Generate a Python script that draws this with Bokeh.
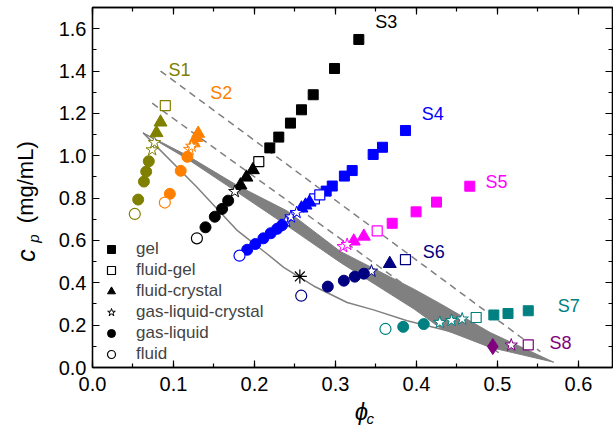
from bokeh.plotting import figure
from bokeh.models import (Range1d, LinearAxis, Label, Legend, LegendItem,
                          SingleIntervalTicker, NumeralTickFormatter, CustomJSTickFormatter)
from bokeh.core.properties import value
from bokeh.embed import file_html
from bokeh.resources import INLINE

FONT = "Liberation Sans"

# ---------------- data ----------------
# phase codes: G gel, FG fluid-gel, FC fluid-crystal, GLC gas-liquid-crystal,
#              GL gas-liquid, F fluid, X crystal (diamond)
S1_phi = [0.0522, 0.0564, 0.0635, 0.0663, 0.0695, 0.0737, 0.0765, 0.079, 0.084, 0.0899]
S1_cp = [0.725, 0.793, 0.878, 0.925, 0.974, 1.028, 1.062, 1.108, 1.158, 1.237]
S1_phase = ["F", "GL", "GL", "GL", "GL", "GLC", "GLC", "FC", "FC", "FG"]

S2_phi = [0.0893, 0.0955, 0.1089, 0.1171, 0.120, 0.1225, 0.125, 0.128, 0.1305]
S2_cp = [0.779, 0.820, 0.929, 0.995, 1.030, 1.045, 1.060, 1.085, 1.105]
S2_phase = ["F", "GL", "GL", "GL", "GLC", "GLC", "FC", "FC", "FC"]

S3_phi = [0.1289, 0.1395, 0.151, 0.160, 0.1675, 0.1757, 0.1827, 0.190, 0.198, 0.2053,
          0.2189, 0.230, 0.2444, 0.258, 0.2725, 0.2988, 0.3288]
S3_cp = [0.610, 0.662, 0.712, 0.749, 0.788, 0.831, 0.861, 0.898, 0.933, 0.972,
         1.037, 1.088, 1.154, 1.217, 1.288, 1.412, 1.549]
S3_phase = ["F", "GL", "GL", "GL", "GL", "GLC", "FC", "FC", "FC", "FG",
            "G", "G", "G", "G", "G", "G", "G"]

S4_phi = [0.1815, 0.191, 0.201, 0.211, 0.220, 0.228, 0.234, 0.239, 0.245, 0.252,
          0.258, 0.263, 0.268, 0.274, 0.2806, 0.2885, 0.296, 0.311, 0.3206, 0.3465,
          0.358, 0.3864]
S4_cp = [0.528, 0.556, 0.583, 0.610, 0.634, 0.655, 0.672, 0.690, 0.711, 0.732,
         0.752, 0.766, 0.780, 0.796, 0.815, 0.833, 0.857, 0.904, 0.930, 1.006,
         1.040, 1.119]
S4_phase = ["F", "GL", "GL", "GL", "GL", "GL", "GL", "GLC", "GLC", "GLC",
            "FC", "FC", "FC", "FG", "FG", "G", "G", "G", "G", "G", "G", "G"]

S5_phi = [0.3095, 0.3144, 0.3226, 0.335, 0.3515, 0.370, 0.3995, 0.4247, 0.4658]
S5_cp = [0.571, 0.581, 0.596, 0.619, 0.645, 0.681, 0.735, 0.781, 0.856]
S5_phase = ["GLC", "GLC", "FC", "FC", "FG", "G", "G", "G", "G"]

S6_phi = [0.2577, 0.2905, 0.3103, 0.3238, 0.335, 0.3444, 0.367, 0.3864]
S6_cp = [0.339, 0.382, 0.410, 0.429, 0.443, 0.455, 0.490, 0.509]
S6_phase = ["F", "GL", "GL", "GL", "GL", "GLC", "FC", "FG"]

S7_phi = [0.3617, 0.3836, 0.409, 0.4288, 0.4432, 0.4564, 0.4737, 0.4955, 0.513, 0.538]
S7_cp = [0.182, 0.192, 0.205, 0.213, 0.222, 0.229, 0.236, 0.248, 0.255, 0.268]
S7_phase = ["F", "GL", "GL", "GLC", "GLC", "GLC", "FG", "G", "G", "G"]

S8_phi = [0.4942, 0.517, 0.538]
S8_cp = [0.099, 0.106, 0.107]
S8_phase = ["X", "GLC", "FG"]

star_point_phi = [0.256]
star_point_cp = [0.430]

series_names = ["S1", "S2", "S3", "S4", "S5", "S6", "S7", "S8"]
series_colors = ["#808000", "#FF8000", "#000000", "#0000FF", "#FF00FF", "#000080", "#008080", "#800080"]
label_phi = [0.1074, 0.159, 0.3627, 0.420, 0.4988, 0.4214, 0.588, 0.5778]
label_cp = [1.403, 1.297, 1.631, 1.198, 0.875, 0.544, 0.292, 0.118]

# grey coexistence band (upper edge then lower edge)
band_upper_phi = [0.0625, 0.117, 0.179, 0.240, 0.306, 0.397, 0.430, 0.491, 0.5695]
band_upper_cp = [1.108, 1.001, 0.859, 0.740, 0.548, 0.370, 0.300, 0.165, 0.025]
band_lower_phi = [0.5695, 0.491, 0.430, 0.397, 0.306, 0.240, 0.179, 0.117, 0.0625]
band_lower_cp = [0.025, 0.095, 0.185, 0.276, 0.496, 0.670, 0.827, 0.985, 1.108]

# thin grey curve
curve_phi = [0.0625, 0.129, 0.179, 0.2157, 0.236, 0.273, 0.3144, 0.347, 0.3885, 0.4296, 0.47]
curve_cp = [1.108, 0.851, 0.646, 0.536, 0.473, 0.385, 0.307, 0.272, 0.221, 0.182, 0.142]

# dashed lines
dashA_phi = [0.084, 0.553]
dashA_cp = [1.400, 0.075]
dashB_phi = [0.0737, 0.505]
dashB_cp = [1.248, 0.060]

legend_phases = ["G", "FG", "FC", "GLC", "GL", "F"]
legend_labels = ["gel", "fluid-gel", "fluid-crystal", "gas-liquid-crystal", "gas-liquid", "fluid"]

# ---------------- styles ----------------
STYLE = {
    "G": dict(marker="square", size=10, filled=True, lw=1),
    "FG": dict(marker="square", size=10, filled=False, lw=1.2),
    "FC": dict(marker="triangle", size=13, filled=True, lw=1),
    "GLC": dict(marker="star", size=13, filled=False, lw=1),
    "GL": dict(marker="circle", size=11, filled=True, lw=1),
    "F": dict(marker="circle", size=11, filled=False, lw=1.2),
    "X": dict(marker="diamond", size=16, filled=True, lw=1),
}

p = figure(width=613, height=429, output_backend="svg", toolbar_location=None,
           x_range=Range1d(0, 0.642), y_range=Range1d(0, 1.7),
           min_border_left=92, min_border_right=1, min_border_top=7, min_border_bottom=62)
p.grid.visible = False
p.outline_line_color = "black"
p.outline_line_width = 1.3
p.background_fill_color = "white"


def style_axis(ax, show_labels):
    ax.axis_line_width = 1.3
    ax.axis_line_color = "black"
    ax.major_tick_in = 7
    ax.major_tick_out = 0
    ax.minor_tick_in = 4
    ax.minor_tick_out = 0
    ax.major_tick_line_width = 1.2
    ax.minor_tick_line_width = 1.2
    ax.major_label_text_font = FONT
    if show_labels:
        ax.major_label_text_font_size = "20px"
        ax.major_label_text_color = "black"
    else:
        ax.formatter = CustomJSTickFormatter(code="return ''")
        ax.major_label_text_font_size = "1px"
        ax.major_label_standoff = 0


p.xaxis.ticker = SingleIntervalTicker(interval=0.1, num_minor_ticks=2)
p.yaxis.ticker = SingleIntervalTicker(interval=0.2, num_minor_ticks=2)
p.xaxis.formatter = NumeralTickFormatter(format="0.0")
p.yaxis.formatter = NumeralTickFormatter(format="0.0")
style_axis(p.xaxis[0], True)
style_axis(p.yaxis[0], True)
p.xaxis.major_label_standoff = 9
p.yaxis.major_label_standoff = 6

top = LinearAxis(ticker=SingleIntervalTicker(interval=0.1, num_minor_ticks=2))
right = LinearAxis(ticker=SingleIntervalTicker(interval=0.2, num_minor_ticks=2))
style_axis(top, False)
style_axis(right, False)
p.add_layout(top, "above")
p.add_layout(right, "right")

# band, curve, dashed lines
p.patch(band_upper_phi + band_lower_phi, band_upper_cp + band_lower_cp,
        fill_color="#808080", line_color="#808080", line_width=1)
p.line(curve_phi, curve_cp, line_color="#808080", line_width=1.5)
p.line(dashA_phi, dashA_cp, line_color="#808080", line_width=1.5, line_dash="7 5")
p.line(dashB_phi, dashB_cp, line_color="#808080", line_width=1.5, line_dash="7 5")

all_series = [(S1_phi, S1_cp, S1_phase), (S2_phi, S2_cp, S2_phase), (S3_phi, S3_cp, S3_phase),
              (S4_phi, S4_cp, S4_phase), (S5_phi, S5_cp, S5_phase), (S6_phi, S6_cp, S6_phase),
              (S7_phi, S7_cp, S7_phase), (S8_phi, S8_cp, S8_phase)]

legend_renderers = {}
for name, (xs, ys, ph), col in zip(series_names, all_series, series_colors):
    for code, st in STYLE.items():
        px = [x for x, c in zip(xs, ph) if c == code]
        py = [y for y, c in zip(ys, ph) if c == code]
        if not px:
            continue
        r = p.scatter(px, py, marker=st["marker"], size=st["size"],
                      fill_color=col if st["filled"] else "white",
                      line_color=col, line_width=st["lw"])
        if name == "S3":
            legend_renderers[code] = r

p.scatter(star_point_phi, star_point_cp, marker="asterisk", size=14,
          line_color="black", line_width=1.2)

for name, col, lx, ly in zip(series_names, series_colors, label_phi, label_cp):
    p.add_layout(Label(x=lx, y=ly, text=name, text_color=col, text_font=FONT,
                       text_font_size="18px", text_align="center", text_baseline="middle"))

# legend (uses the black S3 markers)
items = [LegendItem(label=lab, renderers=[legend_renderers[code]])
         for code, lab in zip(legend_phases, legend_labels)]
leg = Legend(items=items, location=(9, 3), padding=0, margin=0, spacing=1,
             glyph_width=20, glyph_height=20, label_height=20, label_standoff=15,
             label_text_font=FONT, label_text_font_size="17px",
             border_line_alpha=0, background_fill_alpha=0)
p.add_layout(leg, "center")


# axis titles: text glyphs on the overlay level so they are not clipped to the frame
def title_text(x, y, txt, size, italic=True, angle=0.0):
    p.text(x=[x], y=[y], text=[txt], text_font=value(FONT),
           text_font_style="italic" if italic else "normal", text_font_size=size,
           text_color="black", text_align="center", text_baseline="middle",
           angle=angle, level="overlay")


title_text(0.3321, -0.2078, "ϕ", "24px")
title_text(0.343, -0.2409, "c", "15px")
title_text(-0.0827, 0.5289, "c", "25px", angle=1.5708)
title_text(-0.0728, 0.6091, "p", "15px", angle=1.5708)
title_text(-0.0827, 0.875, "(mg/mL)", "22px", italic=False, angle=1.5708)

open("out.html", "w").write(file_html(p, INLINE))
